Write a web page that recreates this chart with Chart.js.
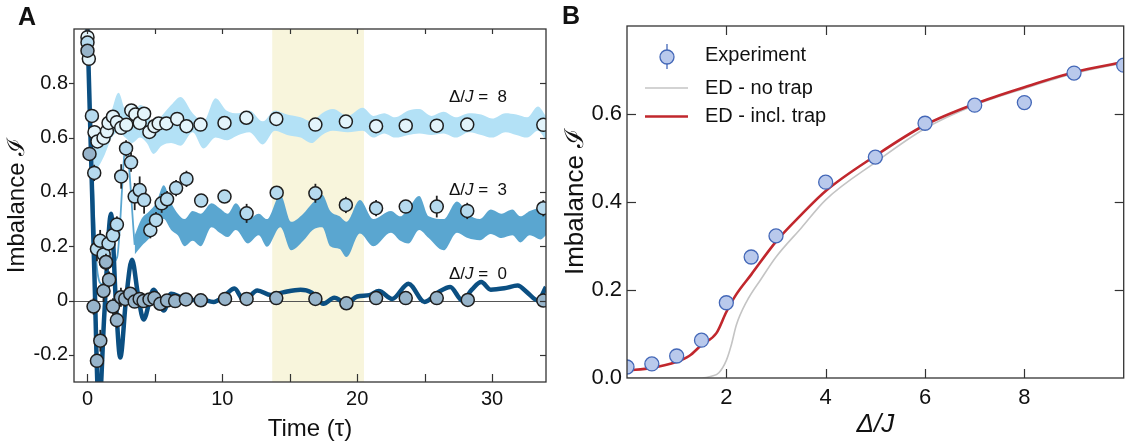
<!DOCTYPE html>
<html>
<head>
<meta charset="utf-8">
<script src="https://cdn.jsdelivr.net/npm/chart.js@4.4.1/dist/chart.umd.min.js"></script>
<style>
  html, body { margin: 0; padding: 0; background: #fff; overflow: hidden; }
  body { width: 1126px; height: 444px; position: relative; font-family: "Liberation Sans", Arial, sans-serif; }
  #boxA { position: absolute; left: 0; top: 0; width: 560px; height: 444px; }
  #boxB { position: absolute; left: 560px; top: 0; width: 572px; height: 444px; }
  .panel { position: absolute; font-weight: bold; font-size: 25px; line-height: 25px; color: #111; }
</style>
</head>
<body>
<div id="boxA"><canvas id="chartA" width="560" height="444"></canvas></div>
<div id="boxB"><canvas id="chartB" width="572" height="444"></canvas></div>
<div class="panel" style="left:18px; top:4px;">A</div>
<div class="panel" style="left:562px; top:3px;">B</div>

<script>
const FONT = '"Liberation Sans", Arial, Helvetica, sans-serif';
const INK = '#111';

// ---------- panel A : imbalance vs time ----------
const timeTicks = [0, 10, 20, 30];
const timeMarks = [0, 5, 10, 15, 20, 25, 30];
const imbTicksA = [-0.2, 0, 0.2, 0.4, 0.6, 0.8];
const windowA = [13.7, 20.5];

// measured points, Delta/J = 8
const t8 = [0, 0.1, 0.52, 0.74, 1.19, 1.44, 1.56, 1.89, 2.18, 2.5, 2.88, 3.25, 3.55, 3.87, 4.2, 4.59, 4.96, 5.28, 5.85, 6.65, 7.34, 8.38, 10.16, 11.78, 14.0, 16.9, 19.16, 21.4, 23.6, 25.9, 28.16, 33.8];
const imb8 = [0.97, 0.89, 0.62, 0.586, 0.599, 0.623, 0.654, 0.677, 0.657, 0.636, 0.647, 0.70, 0.685, 0.654, 0.688, 0.621, 0.642, 0.652, 0.652, 0.669, 0.642, 0.648, 0.654, 0.673, 0.669, 0.648, 0.659, 0.642, 0.644, 0.644, 0.648, 0.647];
const err8 = [0.03, 0.01, 0.02, 0.02, 0.02, 0.02, 0.02, 0.02, 0.02, 0.02, 0.02, 0.02, 0.02, 0.02, 0.02, 0.02, 0.02, 0.02, 0.02, 0.02, 0.02, 0.015, 0.015, 0.015, 0.015, 0.015, 0.015, 0.015, 0.015, 0.015, 0.015, 0.015];

// measured points, Delta/J = 3
const t3 = [0, 0.33, 0.5, 0.7, 0.94, 1.2, 1.37, 1.56, 1.89, 2.18, 2.5, 2.86, 3.23, 3.5, 3.87, 4.2, 4.66, 5.08, 5.5, 5.9, 6.57, 7.34, 8.43, 10.16, 11.8, 14.03, 16.9, 19.16, 21.4, 23.6, 25.9, 28.16, 33.8];
const imb3 = [0.95, 0.68, 0.47, 0.19, 0.22, 0.17, 0.14, 0.21, 0.24, 0.28, 0.457, 0.56, 0.509, 0.383, 0.407, 0.37, 0.259, 0.296, 0.358, 0.373, 0.414, 0.448, 0.368, 0.383, 0.321, 0.397, 0.395, 0.352, 0.34, 0.346, 0.346, 0.33, 0.34];
const err3 = [0.02, 0.02, 0.03, 0.045, 0.04, 0.035, 0.03, 0.03, 0.03, 0.03, 0.045, 0.03, 0.035, 0.05, 0.05, 0.05, 0.03, 0.03, 0.035, 0.03, 0.03, 0.03, 0.02, 0.02, 0.035, 0.02, 0.035, 0.03, 0.03, 0.02, 0.04, 0.03, 0.03];

// measured points, Delta/J = 0
const t0 = [0, 0.15, 0.45, 0.7, 0.95, 1.19, 1.37, 1.6, 1.89, 2.18, 2.48, 2.8, 3.17, 3.5, 3.87, 4.16, 4.6, 4.96, 5.4, 5.9, 6.5, 7.3, 8.4, 10.2, 11.8, 14.0, 16.9, 19.2, 21.4, 23.6, 25.9, 28.2, 33.8];
const imb0 = [0.92, 0.54, -0.022, -0.222, -0.148, 0.035, 0.142, 0.077, -0.022, -0.072, 0.012, 0.006, 0.025, -0.004, 0.006, -0.002, 0.004, 0.009, -0.012, 0.0, -0.002, 0.004, 0.001, 0.006, 0.006, 0.009, 0.006, -0.01, 0.009, 0.009, 0.009, 0.002, 0.0];
const err0 = [0.02, 0.02, 0.03, 0.02, 0.04, 0.04, 0.03, 0.03, 0.03, 0.03, 0.035, 0.03, 0.02, 0.02, 0.02, 0.02, 0.02, 0.02, 0.02, 0.02, 0.02, 0.02, 0.02, 0.02, 0.02, 0.02, 0.02, 0.02, 0.02, 0.02, 0.02, 0.02, 0.02];

// theory band, Delta/J = 8
const tBand8 = [0.3, 0.6, 0.9, 1.3, 1.8, 2.3, 2.8, 3.3, 3.9, 4.4, 4.9, 5.5, 6.2, 6.9, 7.8, 8.6, 9.5, 10.3, 11.2, 12.0, 13.0, 13.9, 14.8, 15.8, 16.6, 17.4, 18.2, 19.3, 20.4, 21.2, 22.0, 22.8, 23.8, 24.6, 25.5, 26.4, 27.3, 28.3, 29.2, 30.0, 31.0, 31.8, 32.6, 33.4, 34.0];
const upper8 = [0.62, 0.58, 0.56, 0.62, 0.70, 0.765, 0.70, 0.68, 0.72, 0.70, 0.64, 0.68, 0.72, 0.75, 0.69, 0.66, 0.745, 0.70, 0.69, 0.70, 0.66, 0.70, 0.685, 0.675, 0.66, 0.69, 0.705, 0.68, 0.71, 0.68, 0.69, 0.675, 0.70, 0.705, 0.68, 0.695, 0.675, 0.69, 0.685, 0.67, 0.69, 0.685, 0.675, 0.715, 0.68];
const lower8 = [0.56, 0.48, 0.50, 0.54, 0.60, 0.62, 0.60, 0.58, 0.60, 0.58, 0.54, 0.57, 0.58, 0.57, 0.62, 0.56, 0.60, 0.59, 0.61, 0.62, 0.575, 0.625, 0.61, 0.60, 0.58, 0.61, 0.625, 0.62, 0.625, 0.60, 0.615, 0.60, 0.61, 0.615, 0.61, 0.615, 0.60, 0.62, 0.61, 0.60, 0.62, 0.61, 0.60, 0.625, 0.59];

// theory, Delta/J = 3 : early thin line, then band
const tLine3 = [0, 0.35, 0.7, 1.1, 1.6, 2.2, 2.85, 3.5];
const line3 = [1.0, 0.5, 0.12, 0.06, 0.13, 0.16, 0.57, 0.205];
const tBand3 = [3.5, 4.0, 4.6, 5.1, 5.65, 6.2, 6.7, 7.2, 7.8, 8.4, 9.2, 9.8, 10.4, 11.0, 11.9, 12.7, 13.3, 14.3, 15.1, 16.0, 16.7, 17.4, 18.0, 18.7, 19.2, 20.2, 21.2, 22.5, 23.2, 23.8, 24.6, 25.3, 26.4, 27.4, 28.2, 29.1, 29.9, 30.7, 31.5, 32.1, 32.8, 33.6, 34.0];
const upper3 = [0.24, 0.30, 0.33, 0.36, 0.425, 0.36, 0.32, 0.30, 0.33, 0.32, 0.358, 0.34, 0.32, 0.358, 0.30, 0.32, 0.30, 0.39, 0.29, 0.32, 0.36, 0.39, 0.33, 0.31, 0.29, 0.37, 0.30, 0.33, 0.31, 0.34, 0.385, 0.31, 0.30, 0.365, 0.32, 0.30, 0.335, 0.32, 0.335, 0.31, 0.33, 0.34, 0.33];
const lower3 = [0.17, 0.20, 0.23, 0.27, 0.30, 0.26, 0.24, 0.20, 0.22, 0.20, 0.27, 0.25, 0.234, 0.26, 0.21, 0.24, 0.198, 0.27, 0.185, 0.22, 0.26, 0.27, 0.20, 0.19, 0.16, 0.247, 0.20, 0.25, 0.22, 0.21, 0.26, 0.23, 0.185, 0.25, 0.23, 0.222, 0.245, 0.23, 0.24, 0.214, 0.24, 0.225, 0.24];

// theory, Delta/J = 0
const tLine0 = [0, 0.25, 0.5, 0.85, 1.25, 1.75, 2.1, 2.43, 2.85, 3.3, 3.75, 4.16, 4.9, 5.66, 6.2, 6.9, 7.5, 8.4, 9.35, 10.2, 10.9, 11.6, 12.6, 13.6, 14.5, 15.8, 16.6, 17.5, 18.3, 19.2, 20.0, 20.9, 21.6, 22.6, 23.8, 25.0, 26.0, 26.9, 27.8, 28.5, 29.2, 29.9, 30.9, 31.9, 32.6, 33.4, 34.0];
const line0 = [1.0, 0.56, 0.12, -0.4, -0.05, 0.32, 0.0, -0.21, 0.0, 0.15, 0.02, -0.07, 0.04, -0.037, 0.025, 0.012, 0.0, 0.005, -0.005, 0.02, 0.044, 0.0, 0.037, 0.02, 0.03, 0.04, 0.03, -0.012, 0.01, -0.01, 0.015, 0.02, 0.035, 0.006, 0.062, -0.005, 0.03, 0.05, 0.0, 0.04, 0.068, 0.04, 0.045, 0.055, 0.03, 0.0, 0.05];

// curve labels
const noteDelta = ['8', '3', '0'];
const noteT = [26.8, 26.8, 26.8];
const noteV = [0.73, 0.389, 0.078];

// ---------- panel B : imbalance vs Delta/J ----------
const deltaTicks = [2, 4, 6, 8];
const imbTicksB = [0, 0.2, 0.4, 0.6];
const imbMarksB = [0.2, 0.4, 0.6];

const deltaExp = [0, 0.5, 1, 1.5, 2, 2.5, 3, 4, 5, 6, 7, 8, 9, 10];
const imbExp = [0.025, 0.032, 0.05, 0.086, 0.171, 0.275, 0.323, 0.445, 0.502, 0.579, 0.62, 0.626, 0.693, 0.711];
const deltaNoTrap = [0, 1.5, 1.7, 1.85, 2.0, 2.1, 2.2, 2.4, 2.7, 3, 3.5, 4, 5, 6, 7, 8, 9, 10];
const imbNoTrap = [0, 0, 0.004, 0.012, 0.04, 0.075, 0.12, 0.172, 0.225, 0.275, 0.34, 0.405, 0.49, 0.567, 0.62, 0.658, 0.692, 0.716];
const deltaTrap = [0, 0.5, 1, 1.25, 1.5, 1.8, 2, 2.2, 2.5, 3, 3.5, 4, 5, 6, 7, 8, 9, 10];
const imbTrap = [0.017, 0.023, 0.037, 0.05, 0.075, 0.102, 0.15, 0.19, 0.235, 0.31, 0.37, 0.425, 0.505, 0.575, 0.623, 0.661, 0.695, 0.718];


const pts = (xs, ys) => xs.map((x, i) => ({ x: x, y: ys[i] }));

function line(ctx, x0, y0, x1, y1) {
    ctx.beginPath();
    ctx.moveTo(x0, y0);
    ctx.lineTo(x1, y1);
    ctx.stroke();
}

// shading, zero line, error bars, labels, frame with ticks, legend
const decor = {
    id: 'decor',
    beforeDatasetsDraw(chart, args, o) {
        const { ctx, chartArea: a, scales } = chart;
        ctx.save();
        if (o.window) {
            const x0 = scales.x.getPixelForValue(o.window[0]);
            const x1 = scales.x.getPixelForValue(o.window[1]);
            ctx.fillStyle = '#f8f5dc';
            ctx.fillRect(x0, a.top, x1 - x0, a.bottom - a.top);
        }
        if (o.zeroLine) {
            const py = Math.round(scales.y.getPixelForValue(0)) + 0.5;
            ctx.strokeStyle = '#555';
            ctx.lineWidth = 1;
            line(ctx, a.left, py, a.right, py);
        }
        ctx.restore();
    },
    beforeDatasetDraw(chart, args) {
        const ds = chart.data.datasets[args.index];
        if (!ds.errors) return;
        const { ctx, scales } = chart;
        const meta = chart.getDatasetMeta(args.index);
        ctx.save();
        ctx.strokeStyle = '#222';
        ctx.lineWidth = 1.8;
        meta.data.forEach((el, i) => {
            const v = ds.data[i].y, e = ds.errors[i];
            line(ctx, el.x, scales.y.getPixelForValue(v + e), el.x, scales.y.getPixelForValue(v - e));
        });
        ctx.restore();
    },
    afterDatasetsDraw(chart, args, o) {
        if (!o.notes) return;
        const { ctx, scales } = chart;
        ctx.save();
        ctx.fillStyle = INK;
        ctx.textBaseline = 'alphabetic';
        o.notes.forEach(n => {
            let x = scales.x.getPixelForValue(n.t);
            const y = scales.y.getPixelForValue(n.v);
            ctx.font = '17px ' + FONT;
            ctx.fillText('Δ/', x, y);
            x += ctx.measureText('Δ/').width;
            ctx.font = 'italic 17px ' + FONT;
            ctx.fillText('J', x, y);
            x += ctx.measureText('J').width;
            ctx.font = '17px ' + FONT;
            ctx.fillText(' =  ' + n.label, x, y);
        });
        ctx.restore();
    },
    afterDraw(chart, args, o) {
        const { ctx, chartArea: a, scales } = chart;
        ctx.save();
        ctx.strokeStyle = '#333';
        ctx.lineWidth = 1.3;
        ctx.strokeRect(a.left, a.top, a.right - a.left, a.bottom - a.top);
        ctx.lineWidth = 1.2;
        o.xMarks.forEach(v => {
            const px = Math.round(scales.x.getPixelForValue(v)) + 0.5;
            line(ctx, px, a.bottom, px, a.bottom - o.len.bottom);
            line(ctx, px, a.top, px, a.top + o.len.top);
        });
        o.yMarks.forEach(v => {
            const py = Math.round(scales.y.getPixelForValue(v)) + 0.5;
            line(ctx, a.left, py, a.left + o.len.left, py);
            line(ctx, a.right, py, a.right - o.len.right, py);
        });
        if (o.legend) {
            const ds = chart.data.datasets;
            ctx.font = '20px ' + FONT;
            ctx.fillStyle = INK;
            ctx.textBaseline = 'middle';
            // Experiment
            ctx.strokeStyle = ds[0].pointBorderColor;
            ctx.lineWidth = 1.3;
            line(ctx, 107, 44, 107, 69);
            ctx.beginPath();
            ctx.arc(107, 57, 7, 0, Math.PI * 2);
            ctx.fillStyle = ds[0].pointBackgroundColor;
            ctx.fill();
            ctx.stroke();
            ctx.fillStyle = INK;
            ctx.fillText(ds[0].label, 145, 55);
            // theory lines
            [1, 2].forEach((k, j) => {
                const y = 88 + j * 28.5;
                ctx.strokeStyle = ds[k].borderColor;
                ctx.lineWidth = ds[k].borderWidth;
                line(ctx, 85, y, 128, y);
                ctx.fillText(ds[k].label, 145, y);
            });
        }
        ctx.restore();
    }
};

const bareGrid = { display: false, drawTicks: false };
const noBorder = { display: false };

// ---------- chart A ----------
new Chart(document.getElementById('chartA'), {
    type: 'line',
    data: {
        datasets: [
            { data: pts(tBand8, upper8), borderWidth: 0, pointRadius: 0, fill: false, cubicInterpolationMode: 'monotone', order: 10 },
            { data: pts(tBand8, lower8), borderWidth: 0, pointRadius: 0, fill: '-1', backgroundColor: '#b3e1f6', cubicInterpolationMode: 'monotone', order: 10 },
            { data: pts(tBand3, upper3), borderWidth: 0, pointRadius: 0, fill: false, cubicInterpolationMode: 'monotone', order: 9 },
            { data: pts(tBand3, lower3), borderWidth: 0, pointRadius: 0, fill: '-1', backgroundColor: '#5aa6d0', cubicInterpolationMode: 'monotone', order: 9 },
            { data: pts(tLine3, line3), borderColor: '#5aa6d0', borderWidth: 1.8, pointRadius: 0, fill: false, cubicInterpolationMode: 'monotone', order: 8 },
            { data: pts(tLine0, line0), borderColor: '#0b4f82', borderWidth: 4.5, pointRadius: 0, fill: false, cubicInterpolationMode: 'monotone', order: 7 },
            { data: pts(t8, imb8), errors: err8, showLine: false, pointRadius: 6.5, pointBorderWidth: 1.5, pointBorderColor: '#1e1e1e', pointBackgroundColor: '#e3f4fb', order: 3 },
            { data: pts(t3, imb3), errors: err3, showLine: false, pointRadius: 6.5, pointBorderWidth: 1.5, pointBorderColor: '#1e1e1e', pointBackgroundColor: '#b6daee', order: 2 },
            { data: pts(t0, imb0), errors: err0, showLine: false, pointRadius: 6.5, pointBorderWidth: 1.5, pointBorderColor: '#1e1e1e', pointBackgroundColor: '#97b4ca', order: 1 }
        ]
    },
    options: {
        responsive: false,
        animation: false,
        events: [],
        layout: { padding: { top: 29, right: 14, bottom: 0, left: 0 } },
        plugins: {
            legend: { display: false },
            tooltip: { enabled: false },
            decor: {
                window: windowA,
                zeroLine: true,
                notes: noteDelta.map((d, i) => ({ label: d, t: noteT[i], v: noteV[i] })),
                xMarks: timeMarks,
                yMarks: imbTicksA,
                len: { top: 5, bottom: 8, left: -5, right: 6 }
            }
        },
        scales: {
            x: {
                type: 'linear', min: -1, max: 34,
                afterFit: s => { s.height = 62; },
                afterBuildTicks: s => { s.ticks = timeTicks.map(v => ({ value: v })); },
                grid: bareGrid, border: noBorder,
                ticks: { font: { family: FONT, size: 20 }, color: INK, padding: 5, autoSkip: false, maxRotation: 0, callback: v => String(v) },
                title: { display: true, text: 'Time (τ)', font: { family: FONT, size: 24 }, color: INK, padding: { top: 0, bottom: 0 } }
            },
            y: {
                type: 'linear', min: -0.3, max: 1.0,
                afterFit: s => { s.width = 74; },
                afterBuildTicks: s => { s.ticks = imbTicksA.map(v => ({ value: v })); },
                grid: bareGrid, border: noBorder,
                ticks: { font: { family: FONT, size: 20 }, color: INK, padding: 6, autoSkip: false, callback: v => String(Math.round(v * 10) / 10) },
                title: { display: true, text: 'Imbalance ℐ', font: { family: FONT, size: 24 }, color: INK, padding: { top: 3, bottom: 0 } }
            }
        }
    },
    plugins: [decor]
});

// ---------- chart B ----------
new Chart(document.getElementById('chartB'), {
    type: 'line',
    data: {
        datasets: [
            { label: 'Experiment', data: pts(deltaExp, imbExp), showLine: false, pointRadius: 7, pointBorderWidth: 1.3, pointBorderColor: '#4468b8', pointBackgroundColor: '#b9c9ec', order: 1 },
            { label: 'ED - no trap', data: pts(deltaNoTrap, imbNoTrap), borderColor: '#c4c4c4', borderWidth: 1.6, pointRadius: 0, fill: false, cubicInterpolationMode: 'monotone', order: 3 },
            { label: 'ED - incl. trap', data: pts(deltaTrap, imbTrap), borderColor: '#c1272d', borderWidth: 2.6, pointRadius: 0, fill: false, cubicInterpolationMode: 'monotone', order: 2 }
        ]
    },
    options: {
        responsive: false,
        animation: false,
        events: [],
        layout: { padding: { top: 26, right: 2, bottom: 0, left: 0 } },
        plugins: {
            legend: { display: false },
            tooltip: { enabled: false },
            decor: {
                legend: true,
                xMarks: deltaTicks,
                yMarks: imbMarksB,
                len: { top: 9, bottom: 9, left: 9, right: 9 }
            }
        },
        scales: {
            x: {
                type: 'linear', min: 0, max: 10,
                afterFit: s => { s.height = 66; },
                afterBuildTicks: s => { s.ticks = deltaTicks.map(v => ({ value: v })); },
                grid: bareGrid, border: noBorder,
                ticks: { font: { family: FONT, size: 22 }, color: INK, padding: 7, autoSkip: false, maxRotation: 0, callback: v => String(v) },
                title: { display: true, text: 'Δ/J', font: { family: FONT, size: 26, style: 'italic' }, color: INK, padding: { top: 0, bottom: 4 } }
            },
            y: {
                type: 'linear', min: 0, max: 0.8,
                afterFit: s => { s.width = 67; },
                afterBuildTicks: s => { s.ticks = imbTicksB.map(v => ({ value: v })); },
                grid: bareGrid, border: noBorder,
                ticks: { font: { family: FONT, size: 22 }, color: INK, padding: 5, autoSkip: false, callback: v => v.toFixed(1) },
                title: { display: true, text: 'Imbalance ℐ', font: { family: FONT, size: 26 }, color: INK, padding: { top: 0, bottom: 0 } }
            }
        }
    },
    plugins: [decor]
});
</script>
</body>
</html>
